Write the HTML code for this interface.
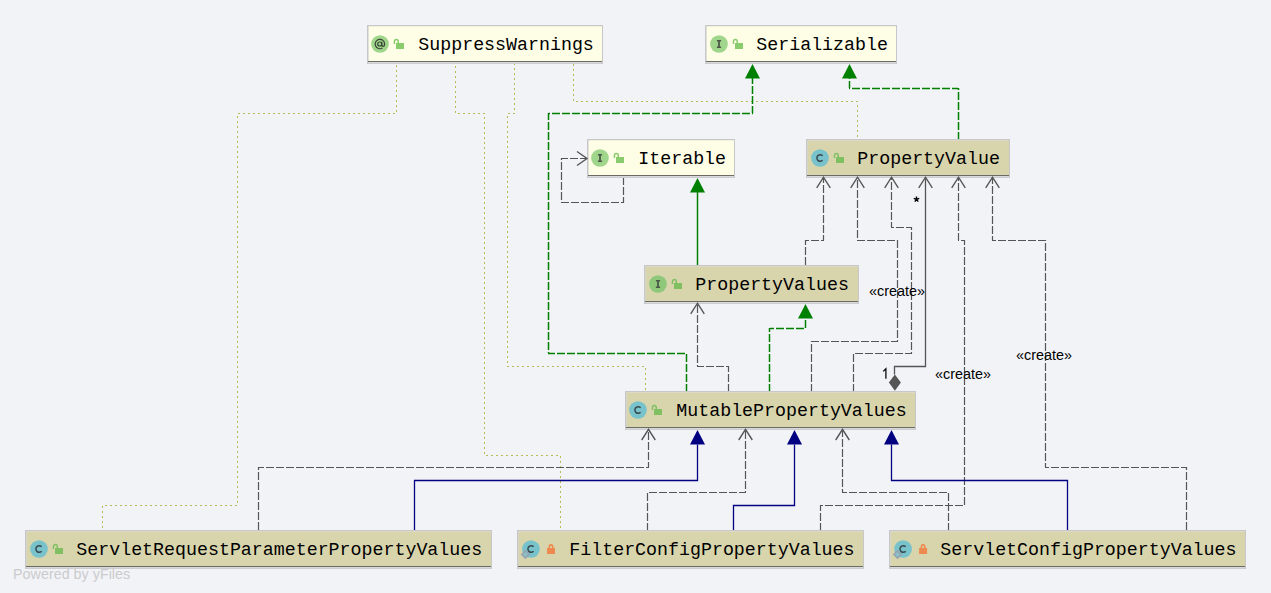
<!DOCTYPE html>
<html><head><meta charset="utf-8"><style>
html,body{margin:0;padding:0;background:#f2f3f7;width:1271px;height:593px;overflow:hidden}
svg{display:block}
text{font-family:"Liberation Mono",monospace}
</style></head><body>
<svg width="1271" height="593" viewBox="0 0 1271 593">
<rect x="0" y="0" width="1271" height="593" fill="#f2f3f7"/>
<path d="M396.5,63.0 L396.5,114.0" fill="none" stroke="#b9b958" stroke-width="1" stroke-dasharray="2 3" stroke-dashoffset="3.0"/>
<path d="M396.0,113.5 L237.0,113.5" fill="none" stroke="#b9b958" stroke-width="1" stroke-dasharray="2 3" stroke-dashoffset="4.0"/>
<path d="M237.5,114.0 L237.5,506.0" fill="none" stroke="#b9b958" stroke-width="1" stroke-dasharray="2 3" stroke-dashoffset="3.0"/>
<path d="M237.0,505.5 L102.0,505.5" fill="none" stroke="#b9b958" stroke-width="1" stroke-dasharray="2 3" stroke-dashoffset="0.0"/>
<path d="M102.5,506.0 L102.5,531.0" fill="none" stroke="#b9b958" stroke-width="1" stroke-dasharray="2 3" stroke-dashoffset="0.0"/>
<path d="M455.5,63.0 L455.5,114.0" fill="none" stroke="#b9b958" stroke-width="1" stroke-dasharray="2 3" stroke-dashoffset="2.0"/>
<path d="M456.0,113.5 L485.0,113.5" fill="none" stroke="#b9b958" stroke-width="1" stroke-dasharray="2 3" stroke-dashoffset="3.0"/>
<path d="M484.5,114.0 L484.5,456.0" fill="none" stroke="#b9b958" stroke-width="1" stroke-dasharray="2 3" stroke-dashoffset="2.0"/>
<path d="M485.0,455.5 L561.0,455.5" fill="none" stroke="#b9b958" stroke-width="1" stroke-dasharray="2 3" stroke-dashoffset="4.0"/>
<path d="M560.5,456.0 L560.5,531.0" fill="none" stroke="#b9b958" stroke-width="1" stroke-dasharray="2 3" stroke-dashoffset="0.0"/>
<path d="M514.5,63.0 L514.5,114.0" fill="none" stroke="#b9b958" stroke-width="1" stroke-dasharray="2 3" stroke-dashoffset="0.0"/>
<path d="M514.0,113.5 L507.0,113.5" fill="none" stroke="#b9b958" stroke-width="1" stroke-dasharray="2 3" stroke-dashoffset="1.0"/>
<path d="M507.5,114.0 L507.5,367.0" fill="none" stroke="#b9b958" stroke-width="1" stroke-dasharray="2 3" stroke-dashoffset="3.0"/>
<path d="M508.0,366.5 L646.0,366.5" fill="none" stroke="#b9b958" stroke-width="1" stroke-dasharray="2 3" stroke-dashoffset="1.0"/>
<path d="M645.5,367.0 L645.5,392.0" fill="none" stroke="#b9b958" stroke-width="1" stroke-dasharray="2 3" stroke-dashoffset="4.0"/>
<path d="M573.5,63.0 L573.5,102.0" fill="none" stroke="#b9b958" stroke-width="1" stroke-dasharray="2 3" stroke-dashoffset="4.0"/>
<path d="M574.0,101.5 L858.0,101.5" fill="none" stroke="#b9b958" stroke-width="1" stroke-dasharray="2 3" stroke-dashoffset="3.0"/>
<path d="M857.5,102.0 L857.5,140.0" fill="none" stroke="#b9b958" stroke-width="1" stroke-dasharray="2 3" stroke-dashoffset="2.0"/>
<path d="M686.5,392.0 L686.5,353.0" fill="none" stroke="#008000" stroke-width="1.5" stroke-dasharray="8 2" stroke-dashoffset="0.0"/>
<path d="M686.0,353.5 L548.0,353.5" fill="none" stroke="#008000" stroke-width="1.5" stroke-dasharray="8 2" stroke-dashoffset="9.0"/>
<path d="M548.5,353.0 L548.5,113.0" fill="none" stroke="#008000" stroke-width="1.5" stroke-dasharray="8 2" stroke-dashoffset="7.0"/>
<path d="M549.0,113.5 L753.0,113.5" fill="none" stroke="#008000" stroke-width="1.5" stroke-dasharray="8 2" stroke-dashoffset="7.0"/>
<path d="M752.5,113.0 L752.5,78.0" fill="none" stroke="#008000" stroke-width="1.5" stroke-dasharray="8 2" stroke-dashoffset="1.0"/>
<path d="M958.5,140.0 L958.5,88.0" fill="none" stroke="#008000" stroke-width="1.5" stroke-dasharray="8 2" stroke-dashoffset="0.0"/>
<path d="M958.0,88.5 L849.0,88.5" fill="none" stroke="#008000" stroke-width="1.5" stroke-dasharray="8 2" stroke-dashoffset="2.0"/>
<path d="M849.5,88.0 L849.5,78.0" fill="none" stroke="#008000" stroke-width="1.5" stroke-dasharray="8 2" stroke-dashoffset="1.0"/>
<path d="M769.5,392.0 L769.5,328.0" fill="none" stroke="#008000" stroke-width="1.5" stroke-dasharray="8 2" stroke-dashoffset="0.0"/>
<path d="M770.0,328.5 L806.0,328.5" fill="none" stroke="#008000" stroke-width="1.5" stroke-dasharray="8 2" stroke-dashoffset="4.0"/>
<path d="M805.5,328.0 L805.5,318.0" fill="none" stroke="#008000" stroke-width="1.5" stroke-dasharray="8 2" stroke-dashoffset="0.0"/>
<polyline points="697.5,265.5 697.5,191.5" fill="none" stroke="#008000" stroke-width="1.5"/>
<path d="M623.5,177.0 L623.5,203.0" fill="none" stroke="#555555" stroke-width="1.2" stroke-dasharray="8 2" stroke-dashoffset="0.0"/>
<path d="M623.0,202.5 L561.0,202.5" fill="none" stroke="#555555" stroke-width="1.2" stroke-dasharray="8 2" stroke-dashoffset="6.0"/>
<path d="M561.5,202.0 L561.5,158.0" fill="none" stroke="#555555" stroke-width="1.2" stroke-dasharray="8 2" stroke-dashoffset="8.0"/>
<path d="M562.0,158.5 L587.0,158.5" fill="none" stroke="#555555" stroke-width="1.2" stroke-dasharray="8 2" stroke-dashoffset="2.0"/>
<path d="M805.5,266.0 L805.5,240.0" fill="none" stroke="#555555" stroke-width="1.2" stroke-dasharray="8 2" stroke-dashoffset="9.0"/>
<path d="M806.0,240.5 L824.0,240.5" fill="none" stroke="#555555" stroke-width="1.2" stroke-dasharray="8 2" stroke-dashoffset="5.0"/>
<path d="M823.5,240.0 L823.5,178.0" fill="none" stroke="#555555" stroke-width="1.2" stroke-dasharray="8 2" stroke-dashoffset="3.0"/>
<path d="M811.5,392.0 L811.5,341.0" fill="none" stroke="#555555" stroke-width="1.2" stroke-dasharray="8 2" stroke-dashoffset="0.0"/>
<path d="M812.0,341.5 L898.0,341.5" fill="none" stroke="#555555" stroke-width="1.2" stroke-dasharray="8 2" stroke-dashoffset="1.0"/>
<path d="M897.5,341.0 L897.5,240.0" fill="none" stroke="#555555" stroke-width="1.2" stroke-dasharray="8 2" stroke-dashoffset="7.0"/>
<path d="M897.0,240.5 L857.0,240.5" fill="none" stroke="#555555" stroke-width="1.2" stroke-dasharray="8 2" stroke-dashoffset="8.0"/>
<path d="M857.5,240.0 L857.5,178.0" fill="none" stroke="#555555" stroke-width="1.2" stroke-dasharray="8 2" stroke-dashoffset="8.0"/>
<path d="M853.5,392.0 L853.5,353.0" fill="none" stroke="#555555" stroke-width="1.2" stroke-dasharray="8 2" stroke-dashoffset="0.0"/>
<path d="M854.0,353.5 L912.0,353.5" fill="none" stroke="#555555" stroke-width="1.2" stroke-dasharray="8 2" stroke-dashoffset="9.0"/>
<path d="M911.5,353.0 L911.5,227.0" fill="none" stroke="#555555" stroke-width="1.2" stroke-dasharray="8 2" stroke-dashoffset="7.0"/>
<path d="M911.0,227.5 L891.0,227.5" fill="none" stroke="#555555" stroke-width="1.2" stroke-dasharray="8 2" stroke-dashoffset="3.0"/>
<path d="M891.5,227.0 L891.5,178.0" fill="none" stroke="#555555" stroke-width="1.2" stroke-dasharray="8 2" stroke-dashoffset="3.0"/>
<path d="M820.5,531.0 L820.5,505.0" fill="none" stroke="#555555" stroke-width="1.2" stroke-dasharray="8 2" stroke-dashoffset="0.0"/>
<path d="M821.0,505.5 L965.0,505.5" fill="none" stroke="#555555" stroke-width="1.2" stroke-dasharray="8 2" stroke-dashoffset="6.0"/>
<path d="M964.5,505.0 L964.5,240.0" fill="none" stroke="#555555" stroke-width="1.2" stroke-dasharray="8 2" stroke-dashoffset="0.0"/>
<path d="M964.0,240.5 L958.0,240.5" fill="none" stroke="#555555" stroke-width="1.2" stroke-dasharray="8 2" stroke-dashoffset="5.0"/>
<path d="M958.5,240.0 L958.5,178.0" fill="none" stroke="#555555" stroke-width="1.2" stroke-dasharray="8 2" stroke-dashoffset="1.0"/>
<path d="M1186.5,531.0 L1186.5,467.0" fill="none" stroke="#555555" stroke-width="1.2" stroke-dasharray="8 2" stroke-dashoffset="9.0"/>
<path d="M1186.0,467.5 L1045.0,467.5" fill="none" stroke="#555555" stroke-width="1.2" stroke-dasharray="8 2" stroke-dashoffset="3.0"/>
<path d="M1045.5,467.0 L1045.5,240.0" fill="none" stroke="#555555" stroke-width="1.2" stroke-dasharray="8 2" stroke-dashoffset="4.0"/>
<path d="M1045.0,240.5 L992.0,240.5" fill="none" stroke="#555555" stroke-width="1.2" stroke-dasharray="8 2" stroke-dashoffset="1.0"/>
<path d="M992.5,240.0 L992.5,178.0" fill="none" stroke="#555555" stroke-width="1.2" stroke-dasharray="8 2" stroke-dashoffset="4.0"/>
<polyline points="925.5,178.5 925.5,366.5 894.5,366.5 894.5,374.5" fill="none" stroke="#555555" stroke-width="1.3"/>
<polygon points="894.9,374.4 900.9,382.6 894.9,390.8 888.9,382.6" fill="#555"/>
<path d="M728.5,392.0 L728.5,366.0" fill="none" stroke="#555555" stroke-width="1.2" stroke-dasharray="8 2" stroke-dashoffset="0.0"/>
<path d="M728.0,366.5 L697.0,366.5" fill="none" stroke="#555555" stroke-width="1.2" stroke-dasharray="8 2" stroke-dashoffset="6.0"/>
<path d="M697.5,366.0 L697.5,304.0" fill="none" stroke="#555555" stroke-width="1.2" stroke-dasharray="8 2" stroke-dashoffset="7.0"/>
<path d="M258.5,531.0 L258.5,467.0" fill="none" stroke="#555555" stroke-width="1.2" stroke-dasharray="8 2" stroke-dashoffset="9.0"/>
<path d="M259.0,467.5 L649.0,467.5" fill="none" stroke="#555555" stroke-width="1.2" stroke-dasharray="8 2" stroke-dashoffset="3.0"/>
<path d="M648.5,467.0 L648.5,430.0" fill="none" stroke="#555555" stroke-width="1.2" stroke-dasharray="8 2" stroke-dashoffset="3.0"/>
<path d="M647.5,531.0 L647.5,492.0" fill="none" stroke="#555555" stroke-width="1.2" stroke-dasharray="8 2" stroke-dashoffset="0.0"/>
<path d="M648.0,492.5 L746.0,492.5" fill="none" stroke="#555555" stroke-width="1.2" stroke-dasharray="8 2" stroke-dashoffset="9.0"/>
<path d="M745.5,492.0 L745.5,430.0" fill="none" stroke="#555555" stroke-width="1.2" stroke-dasharray="8 2" stroke-dashoffset="7.0"/>
<path d="M948.5,531.0 L948.5,492.0" fill="none" stroke="#555555" stroke-width="1.2" stroke-dasharray="8 2" stroke-dashoffset="0.0"/>
<path d="M948.0,492.5 L842.0,492.5" fill="none" stroke="#555555" stroke-width="1.2" stroke-dasharray="8 2" stroke-dashoffset="9.0"/>
<path d="M842.5,492.0 L842.5,430.0" fill="none" stroke="#555555" stroke-width="1.2" stroke-dasharray="8 2" stroke-dashoffset="5.0"/>
<polyline points="414.5,530.5 414.5,480.5 697.5,480.5 697.5,444.5" fill="none" stroke="#000080" stroke-width="1.3"/>
<polyline points="733.5,530.5 733.5,505.5 794.5,505.5 794.5,444.5" fill="none" stroke="#000080" stroke-width="1.3"/>
<polyline points="1067.5,530.5 1067.5,480.5 891.5,480.5 891.5,444.5" fill="none" stroke="#000080" stroke-width="1.3"/>
<text x="869" y="296" font-family="Liberation Sans" font-size="14.4" fill="#000" style="font-family:'Liberation Sans'">«create»</text>
<text x="935" y="379" font-family="Liberation Sans" font-size="14.4" fill="#000" style="font-family:'Liberation Sans'">«create»</text>
<text x="1016" y="360" font-family="Liberation Sans" font-size="14.4" fill="#000" style="font-family:'Liberation Sans'">«create»</text>
<path d="M916.5,199.3 l0.00,-2.90 M916.5,199.3 l2.76,-0.90 M916.5,199.3 l1.70,2.35 M916.5,199.3 l-1.70,2.35 M916.5,199.3 l-2.76,-0.90" stroke="#000" stroke-width="1.4" fill="none"/>
<path d="M883.2,371.4 L885.9,368.8 V378.8" stroke="#000" stroke-width="1.25" fill="none"/>
<rect x="367.5" y="25.5" width="235" height="38" fill="#fefee6" stroke="#c7c7c9" stroke-width="1"/>
<rect x="368" y="26" width="234" height="1" fill="#f2f2dc"/>
<rect x="368" y="26" width="1" height="37" fill="#d4d4d6" opacity="0.7"/>
<rect x="368" y="61" width="234" height="1" fill="#6c6c66"/>
<rect x="368" y="62" width="234" height="1" fill="#d9d9db"/>
<rect x="368" y="63" width="234" height="1" fill="#cdcdcf"/>
<circle cx="380" cy="44" r="8.85" fill="#9fd68b"/>
<circle cx="379.7" cy="44" r="2" fill="none" stroke="#3a4436" stroke-width="1.2"/>
<path d="M381.8,41.8 V45 Q381.8,46.4 383.1,46.4 Q384.6,46.4 384.6,44 A4.7,4.7 0 1 0 382.4,48" fill="none" stroke="#3a4436" stroke-width="1.2"/>
<rect x="396" y="43" width="8" height="6" fill="#8acb6e"/>
<path d="M394.45,43.9 V41.5 A1.9,1.9 0 0 1 398.25,41.5 V43.2" fill="none" stroke="#8acb6e" stroke-width="1.5"/>
<text x="418.3" y="50" font-size="18.3" fill="#000">SuppressWarnings</text>
<rect x="705.5" y="25.5" width="191" height="38" fill="#fefee6" stroke="#c7c7c9" stroke-width="1"/>
<rect x="706" y="26" width="190" height="1" fill="#f2f2dc"/>
<rect x="706" y="26" width="1" height="37" fill="#d4d4d6" opacity="0.7"/>
<rect x="706" y="61" width="190" height="1" fill="#6c6c66"/>
<rect x="706" y="62" width="190" height="1" fill="#d9d9db"/>
<rect x="706" y="63" width="190" height="1" fill="#cdcdcf"/>
<circle cx="719" cy="44" r="8.85" fill="#9fd68b"/>
<path d="M716.9,40.7 H721.1 M716.9,47.3 H721.1" fill="none" stroke="#4b5a47" stroke-width="1.5"/>
<path d="M719,40.5 V47.5" fill="none" stroke="#4b5a47" stroke-width="1.8"/>
<rect x="735" y="43" width="8" height="6" fill="#8acb6e"/>
<path d="M733.45,43.9 V41.5 A1.9,1.9 0 0 1 737.25,41.5 V43.2" fill="none" stroke="#8acb6e" stroke-width="1.5"/>
<text x="756.3" y="50" font-size="18.3" fill="#000">Serializable</text>
<rect x="587.5" y="139.5" width="147" height="38" fill="#fefee6" stroke="#c7c7c9" stroke-width="1"/>
<rect x="588" y="140" width="146" height="1" fill="#f2f2dc"/>
<rect x="588" y="140" width="1" height="37" fill="#d4d4d6" opacity="0.7"/>
<rect x="588" y="175" width="146" height="1" fill="#6c6c66"/>
<rect x="588" y="176" width="146" height="1" fill="#d9d9db"/>
<rect x="588" y="177" width="146" height="1" fill="#cdcdcf"/>
<circle cx="600" cy="158" r="8.85" fill="#9fd68b"/>
<path d="M597.9,154.7 H602.1 M597.9,161.3 H602.1" fill="none" stroke="#4b5a47" stroke-width="1.5"/>
<path d="M600,154.5 V161.5" fill="none" stroke="#4b5a47" stroke-width="1.8"/>
<rect x="616" y="157" width="8" height="6" fill="#8acb6e"/>
<path d="M614.45,157.9 V155.5 A1.9,1.9 0 0 1 618.25,155.5 V157.2" fill="none" stroke="#8acb6e" stroke-width="1.5"/>
<text x="638.3" y="164" font-size="18.3" fill="#000">Iterable</text>
<rect x="806.5" y="139.5" width="203" height="38" fill="#d8d5ad" stroke="#c7c7c9" stroke-width="1"/>
<rect x="807" y="140" width="202" height="1" fill="#dcdac4"/>
<rect x="807" y="140" width="1" height="37" fill="#d4d4d6" opacity="0.7"/>
<rect x="807" y="175" width="202" height="1" fill="#6c6c66"/>
<rect x="807" y="176" width="202" height="1" fill="#d9d9db"/>
<rect x="807" y="177" width="202" height="1" fill="#cdcdcf"/>
<circle cx="820" cy="158" r="8.85" fill="#78c2cc"/>
<path d="M822.6,155.7 A3.3,3.3 0 1 0 822.6,160.3" fill="none" stroke="#3b4a4f" stroke-width="1.5"/>
<rect x="836" y="157" width="8" height="6" fill="#80c063"/>
<path d="M834.45,157.9 V155.5 A1.9,1.9 0 0 1 838.25,155.5 V157.2" fill="none" stroke="#80c063" stroke-width="1.5"/>
<text x="857.3" y="164" font-size="18.3" fill="#000">PropertyValue</text>
<rect x="644.5" y="265.5" width="214" height="38" fill="#d8d5ad" stroke="#c7c7c9" stroke-width="1"/>
<rect x="645" y="266" width="213" height="1" fill="#dcdac4"/>
<rect x="645" y="266" width="1" height="37" fill="#d4d4d6" opacity="0.7"/>
<rect x="645" y="301" width="213" height="1" fill="#6c6c66"/>
<rect x="645" y="302" width="213" height="1" fill="#d9d9db"/>
<rect x="645" y="303" width="213" height="1" fill="#cdcdcf"/>
<circle cx="658" cy="284" r="8.85" fill="#8fc87a"/>
<path d="M655.9,280.7 H660.1 M655.9,287.3 H660.1" fill="none" stroke="#4b5a47" stroke-width="1.5"/>
<path d="M658,280.5 V287.5" fill="none" stroke="#4b5a47" stroke-width="1.8"/>
<rect x="674" y="283" width="8" height="6" fill="#80c063"/>
<path d="M672.45,283.9 V281.5 A1.9,1.9 0 0 1 676.25,281.5 V283.2" fill="none" stroke="#80c063" stroke-width="1.5"/>
<text x="695.3" y="290" font-size="18.3" fill="#000">PropertyValues</text>
<rect x="625.5" y="391.5" width="290" height="38" fill="#d8d5ad" stroke="#c7c7c9" stroke-width="1"/>
<rect x="626" y="392" width="289" height="1" fill="#dcdac4"/>
<rect x="626" y="392" width="1" height="37" fill="#d4d4d6" opacity="0.7"/>
<rect x="626" y="427" width="289" height="2" fill="#6c6c66"/>
<rect x="626" y="428" width="289" height="1" fill="#d9d9db"/>
<rect x="626" y="429" width="289" height="1" fill="#cdcdcf"/>
<circle cx="638" cy="410" r="8.85" fill="#78c2cc"/>
<path d="M640.6,407.7 A3.3,3.3 0 1 0 640.6,412.3" fill="none" stroke="#3b4a4f" stroke-width="1.5"/>
<rect x="654" y="409" width="8" height="6" fill="#80c063"/>
<path d="M652.45,409.9 V407.5 A1.9,1.9 0 0 1 656.25,407.5 V409.2" fill="none" stroke="#80c063" stroke-width="1.5"/>
<text x="676.3" y="416" font-size="18.3" fill="#000">MutablePropertyValues</text>
<rect x="25.5" y="530.5" width="466" height="38" fill="#d8d5ad" stroke="#c7c7c9" stroke-width="1"/>
<rect x="26" y="531" width="465" height="1" fill="#dcdac4"/>
<rect x="26" y="531" width="1" height="37" fill="#d4d4d6" opacity="0.7"/>
<rect x="26" y="566" width="465" height="1" fill="#6c6c66"/>
<rect x="26" y="567" width="465" height="1" fill="#d9d9db"/>
<rect x="26" y="568" width="465" height="1" fill="#cdcdcf"/>
<circle cx="39" cy="549" r="8.85" fill="#78c2cc"/>
<path d="M41.6,546.7 A3.3,3.3 0 1 0 41.6,551.3" fill="none" stroke="#3b4a4f" stroke-width="1.5"/>
<rect x="55" y="548" width="8" height="6" fill="#80c063"/>
<path d="M53.45,548.9 V546.5 A1.9,1.9 0 0 1 57.25,546.5 V548.2" fill="none" stroke="#80c063" stroke-width="1.5"/>
<text x="76.3" y="555" font-size="18.3" fill="#000">ServletRequestParameterPropertyValues</text>
<rect x="517.5" y="530.5" width="346" height="38" fill="#d8d5ad" stroke="#c7c7c9" stroke-width="1"/>
<rect x="518" y="531" width="345" height="1" fill="#dcdac4"/>
<rect x="518" y="531" width="1" height="37" fill="#d4d4d6" opacity="0.7"/>
<rect x="518" y="566" width="345" height="1" fill="#6c6c66"/>
<rect x="518" y="567" width="345" height="1" fill="#d9d9db"/>
<rect x="518" y="568" width="345" height="1" fill="#cdcdcf"/>
<circle cx="531" cy="549" r="8.85" fill="#78c2cc"/>
<path d="M533.6,546.7 A3.3,3.3 0 1 0 533.6,551.3" fill="none" stroke="#3b4a4f" stroke-width="1.5"/>
<rect x="547" y="548" width="8" height="6" fill="#ee8a4f"/>
<path d="M549.3,548.2 V546.6 A1.7,1.7 0 0 1 552.7,546.6 V548.2" fill="none" stroke="#ee8a4f" stroke-width="1.6"/>
<polygon points="525.4,551.0 528.9,554.5 525.4,558.0 521.9,554.5" fill="#86c4cc" stroke="#98a3af" stroke-width="1.7"/>
<text x="569.3" y="555" font-size="18.3" fill="#000">FilterConfigPropertyValues</text>
<rect x="889.5" y="530.5" width="356" height="38" fill="#d8d5ad" stroke="#c7c7c9" stroke-width="1"/>
<rect x="890" y="531" width="355" height="1" fill="#dcdac4"/>
<rect x="890" y="531" width="1" height="37" fill="#d4d4d6" opacity="0.7"/>
<rect x="890" y="566" width="355" height="1" fill="#6c6c66"/>
<rect x="890" y="567" width="355" height="1" fill="#d9d9db"/>
<rect x="890" y="568" width="355" height="1" fill="#cdcdcf"/>
<circle cx="903.1" cy="549" r="8.85" fill="#78c2cc"/>
<path d="M905.7,546.7 A3.3,3.3 0 1 0 905.7,551.3" fill="none" stroke="#3b4a4f" stroke-width="1.5"/>
<rect x="919.1" y="548" width="8" height="6" fill="#ee8a4f"/>
<path d="M921.4,548.2 V546.6 A1.7,1.7 0 0 1 924.8000000000001,546.6 V548.2" fill="none" stroke="#ee8a4f" stroke-width="1.6"/>
<polygon points="897.5,551.0 901.0,554.5 897.5,558.0 894.0,554.5" fill="#86c4cc" stroke="#98a3af" stroke-width="1.7"/>
<text x="940.3" y="555" font-size="18.3" fill="#000">ServletConfigPropertyValues</text>
<polygon points="752.5,64 745.0,78.5 760.0,78.5" fill="#008000"/>
<polygon points="849.5,64 842.0,78.5 857.0,78.5" fill="#008000"/>
<polygon points="805.5,304 798.0,318.5 813.0,318.5" fill="#008000"/>
<polygon points="697.5,178 690.0,192.5 705.0,192.5" fill="#008000"/>
<polyline points="577,151.5 587,158.5 577,165.5" fill="none" stroke="#555555" stroke-width="1.4"/>
<polyline points="816.7,187.79999999999998 823.5,177.2 830.3,187.79999999999998" fill="none" stroke="#555555" stroke-width="1.4"/>
<polyline points="850.7,187.79999999999998 857.5,177.2 864.3,187.79999999999998" fill="none" stroke="#555555" stroke-width="1.4"/>
<polyline points="884.7,187.79999999999998 891.5,177.2 898.3,187.79999999999998" fill="none" stroke="#555555" stroke-width="1.4"/>
<polyline points="951.7,187.79999999999998 958.5,177.2 965.3,187.79999999999998" fill="none" stroke="#555555" stroke-width="1.4"/>
<polyline points="985.7,187.79999999999998 992.5,177.2 999.3,187.79999999999998" fill="none" stroke="#555555" stroke-width="1.4"/>
<polyline points="918.7,187.79999999999998 925.5,177.2 932.3,187.79999999999998" fill="none" stroke="#555555" stroke-width="1.4"/>
<polyline points="690.7,313.8 697.5,303.2 704.3,313.8" fill="none" stroke="#555555" stroke-width="1.4"/>
<polyline points="641.7,440.0 648.5,429.4 655.3,440.0" fill="none" stroke="#555555" stroke-width="1.4"/>
<polyline points="738.7,440.0 745.5,429.4 752.3,440.0" fill="none" stroke="#555555" stroke-width="1.4"/>
<polyline points="835.7,440.0 842.5,429.4 849.3,440.0" fill="none" stroke="#555555" stroke-width="1.4"/>
<polygon points="697.5,430 690.0,444.5 705.0,444.5" fill="#000080"/>
<polygon points="794.5,430 787.0,444.5 802.0,444.5" fill="#000080"/>
<polygon points="891.5,430 884.0,444.5 899.0,444.5" fill="#000080"/>
<text x="13" y="579" font-size="14.35" fill="#cbcbcd" style="font-family:'Liberation Sans'">Powered by yFiles</text>
</svg></body></html>
